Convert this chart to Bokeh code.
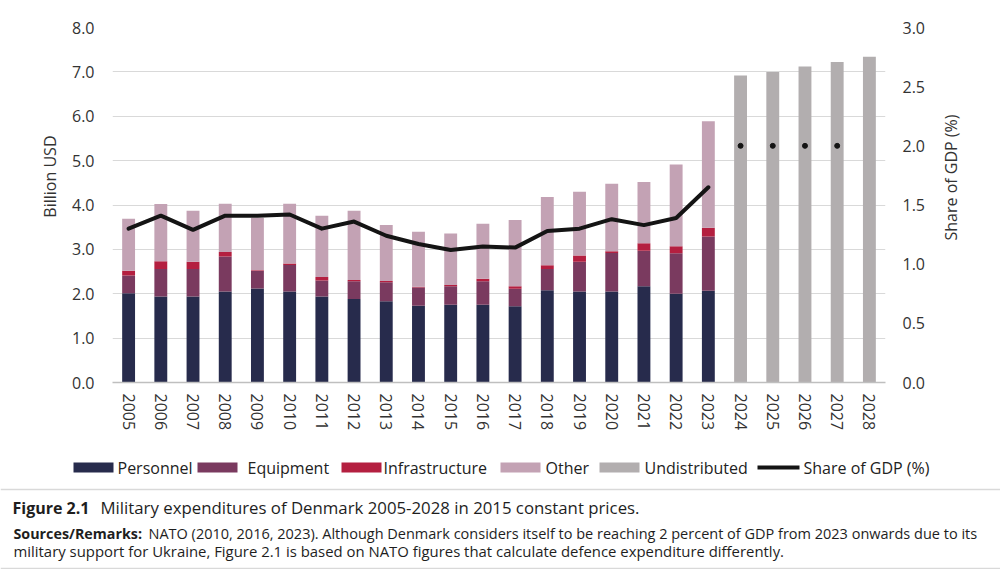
import math
from bokeh.plotting import figure
from bokeh.models import (ColumnDataSource, FactorRange, Range1d, LinearAxis,
                          SingleIntervalTicker, NumeralTickFormatter, Title)
from bokeh.layouts import row
from bokeh.embed import file_html
from bokeh.resources import INLINE
from bokeh.core.properties import value

# ---------------- data ----------------
years = [str(y) for y in range(2005, 2029)]
personnel = [2.01, 1.94, 1.94, 2.05, 2.12, 2.05, 1.94, 1.88, 1.83, 1.73, 1.75, 1.75,
             1.72, 2.08, 2.05, 2.05, 2.17, 2.00, 2.07, 0, 0, 0, 0, 0]
equipment = [0.40, 0.62, 0.62, 0.79, 0.39, 0.60, 0.36, 0.40, 0.43, 0.41, 0.42, 0.53,
             0.39, 0.48, 0.67, 0.87, 0.80, 0.91, 1.22, 0, 0, 0, 0, 0]
infrastructure = [0.11, 0.17, 0.16, 0.10, 0.02, 0.03, 0.08, 0.03, 0.03, 0.02, 0.03, 0.06,
                  0.06, 0.08, 0.14, 0.04, 0.17, 0.16, 0.20, 0, 0, 0, 0, 0]
other = [1.17, 1.29, 1.15, 1.09, 1.18, 1.35, 1.38, 1.56, 1.26, 1.24, 1.16, 1.24,
         1.49, 1.54, 1.44, 1.52, 1.38, 1.84, 2.40, 0, 0, 0, 0, 0]
undistributed = [0] * 19 + [6.92, 7.00, 7.12, 7.22, 7.34]
gdp_years = years[:19]
gdp_share = [1.30, 1.41, 1.29, 1.41, 1.41, 1.42, 1.30, 1.36, 1.24, 1.17, 1.12, 1.15,
             1.14, 1.28, 1.30, 1.38, 1.33, 1.39, 1.65]
target_years = ["2024", "2025", "2026", "2027"]
target_share = [2.0, 2.0, 2.0, 2.0]

series = ["Personnel", "Equipment", "Infrastructure", "Other", "Undistributed"]
colors = ["#272b4c", "#7a3a5f", "#b41f40", "#c3a2b4", "#b2aeaf"]
line_label = "Share of GDP (%)"
left_label = "Billion USD"

caption_bold = "Figure 2.1"
caption_text = "Military expenditures of Denmark 2005-2028 in 2015 constant prices."
source_bold = "Sources/Remarks:"
source_text1 = ("NATO (2010, 2016, 2023). Although Denmark considers itself to be reaching "
                "2 percent of GDP from 2023 onwards due to its")
source_text2 = ("military support for Ukraine, Figure 2.1 is based on NATO figures that "
                "calculate defence expenditure differently.")

FONT = "Open Sans"
TXT = "#333333"

src = ColumnDataSource(dict(year=years, Personnel=personnel, Equipment=equipment,
                            Infrastructure=infrastructure, Other=other,
                            Undistributed=undistributed))

# ---------------- main chart ----------------
p = figure(x_range=FactorRange(*years), y_range=Range1d(0, 8), width=935, height=448,
           output_backend="svg", toolbar_location=None,
           min_border_left=112, min_border_right=50, min_border_top=27,
           min_border_bottom=66)
p.extra_y_ranges = {"gdp": Range1d(0, 3)}
p.outline_line_color = None

p.vbar_stack(series, x="year", width=0.4, fill_color=colors, line_color=None, source=src)
p.line(x=gdp_years, y=gdp_share, y_range_name="gdp", line_width=4, line_color="#141414",
       line_join="round", line_cap="round")
p.scatter(x=target_years, y=target_share, y_range_name="gdp", size=5, color="#141414")

left_ticker = SingleIntervalTicker(interval=1)
yl = p.left[0]
yl.ticker = left_ticker
yl.formatter = NumeralTickFormatter(format="0.0")
p.ygrid[0].ticker = left_ticker
p.ygrid.grid_line_color = "#d9d9d9"
p.xgrid.grid_line_color = None

yr = LinearAxis(y_range_name="gdp", ticker=SingleIntervalTicker(interval=0.5),
                formatter=NumeralTickFormatter(format="0.0"))
p.add_layout(yr, "right")

for ax in (yl, yr):
    ax.axis_line_color = None
    ax.major_tick_line_color = None
    ax.minor_tick_line_color = None
    ax.major_label_text_font = FONT
    ax.major_label_text_font_size = "16px"
    ax.major_label_text_color = TXT
yl.major_label_standoff = 12
yr.major_label_standoff = 11

xa = p.below[0]
xa.axis_line_color = "#bfbfbf"
xa.axis_line_width = 1.5
xa.major_tick_line_color = None
xa.minor_tick_line_color = None
xa.major_label_orientation = "vertical"
xa.major_label_text_font = FONT
xa.major_label_text_font_size = "16px"
xa.major_label_text_color = TXT
xa.major_label_standoff = 5

p.add_layout(Title(text=left_label, align="right", offset=108, standoff=15,
                   text_font=FONT, text_font_size="16px", text_font_style="normal",
                   text_color=TXT), "left")

# ---------------- right-hand axis title (separate narrow panel) ----------------
s = figure(width=65, height=448, x_range=Range1d(935, 1000), y_range=Range1d(382, 27),
           output_backend="svg", toolbar_location=None, min_border_left=0,
           min_border_right=0, min_border_top=27, min_border_bottom=66)
s.axis.visible = False
s.grid.visible = False
s.outline_line_color = None
s.text(x=[950], y=[177], text=[line_label], angle=math.pi / 2, text_font=value(FONT),
       text_font_size="16px", text_align="center", text_baseline="middle", text_color=TXT)

# ---------------- legend + caption ----------------
H = 121
q = figure(width=1000, height=H, x_range=Range1d(0, 1000), y_range=Range1d(H, 0),
           output_backend="svg", toolbar_location=None, min_border=0)
q.axis.visible = False
q.grid.visible = False
q.outline_line_color = None

sw_left = [73, 197, 341, 500, 599]
sw_w = 40
q.quad(left=sw_left, right=[v + sw_w for v in sw_left], top=[14] * 5, bottom=[24] * 5,
       fill_color=colors, line_color=None)
q.line(x=[757, 799], y=[19, 19], line_width=4, line_color="#141414")
q.text(x=[117, 247, 383, 545, 644, 803], y=[19] * 6, text=series + [line_label],
       text_font=value(FONT), text_font_size="16px", text_baseline="middle",
       text_color="#222222")

q.segment(x0=[0, 0], x1=[1000, 1000], y0=[41, 120], y1=[41, 120],
          line_color="#d9d9d9", line_width=1.5)

q.text(x=[12], y=[59], text=[caption_bold], text_font=value(FONT), text_font_size="16px",
       text_font_style="bold", text_baseline="middle", text_color="#1e1e1e")
q.text(x=[100], y=[59], text=[caption_text], text_font=value(FONT), text_font_size="16.8px",
       text_baseline="middle", text_color="#1e1e1e")
q.text(x=[13], y=[85], text=[source_bold], text_font=value(FONT), text_font_size="14.3px",
       text_font_style="bold", text_baseline="middle", text_color="#1e1e1e")
q.text(x=[148], y=[85], text=[source_text1], text_font=value(FONT), text_font_size="14.5px",
       text_baseline="middle", text_color="#1e1e1e")
q.text(x=[13], y=[102], text=[source_text2], text_font=value(FONT), text_font_size="14.9px",
       text_baseline="middle", text_color="#1e1e1e")

open("out.html", "w").write(file_html([row(p, s, spacing=0), q], INLINE))
